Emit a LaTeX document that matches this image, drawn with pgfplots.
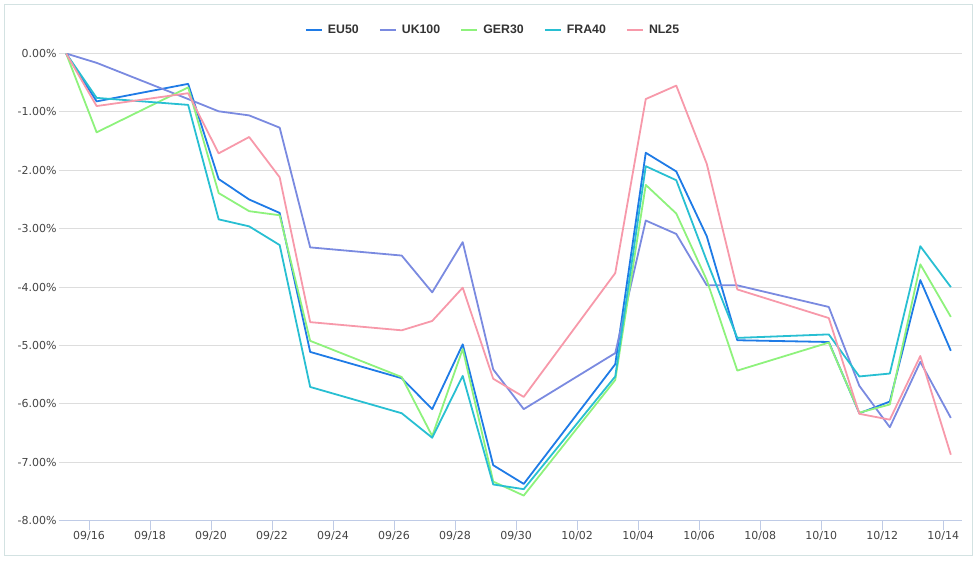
\documentclass[border=0pt]{standalone}
\usepackage{pgfplots}
\pgfplotsset{compat=1.18}
\usepackage{fontspec}
\setmainfont{DejaVu Sans}
\newfontfamily\legfont{Liberation Sans}

\definecolor{eu}{HTML}{1F7BE6}
\definecolor{uk}{HTML}{7A8AE0}
\definecolor{ger}{HTML}{8EF27C}
\definecolor{fra}{HTML}{28BFD2}
\definecolor{nl}{HTML}{F799AA}
\definecolor{gridc}{HTML}{DDDDDD}
\definecolor{axisc}{HTML}{BFCBE6}
\definecolor{framec}{HTML}{D3E2E2}
\definecolor{labc}{HTML}{444444}

% x = days since 09/15, data stamped a quarter day after midnight
\pgfplotstableread{
x     eu     uk     ger    fra    nl
0.25  0.00   0.00   0.00   0.00   0.00
1.25  -0.82  -0.16  -1.35  -0.76  -0.90
4.25  -0.52  -0.78  -0.58  -0.88  -0.68
5.25  -2.15  -0.99  -2.39  -2.84  -1.71
6.25  -2.50  -1.06  -2.70  -2.96  -1.43
7.25  -2.73  -1.27  -2.77  -3.28  -2.12
8.25  -5.11  -3.32  -4.92  -5.71  -4.60
11.25 -5.56  -3.46  -5.54  -6.16  -4.74
12.25 -6.09  -4.09  -6.55  -6.58  -4.58
13.25 -4.98  -3.23  -5.06  -5.52  -4.01
14.25 -7.05  -5.41  -7.33  -7.38  -5.57
15.25 -7.37  -6.09  -7.57  -7.46  -5.88
18.25 -5.32  -5.13  -5.59  -5.53  -3.76
19.25 -1.70  -2.86  -2.25  -1.93  -0.78
20.25 -2.02  -3.09  -2.74  -2.17  -0.55
21.25 -3.13  -3.97  -3.88  -3.55  -1.89
22.25 -4.91  -3.97  -5.43  -4.87  -4.04
25.25 -4.94  -4.34  -4.95  -4.81  -4.53
26.25 -6.16  -5.69  -6.15  -5.53  -6.17
27.25 -5.96  -6.40  -6.01  -5.48  -6.27
28.25 -3.88  -5.28  -3.61  -3.30  -5.18
29.25 -5.09  -6.24  -4.51  -4.00  -6.87
}\data

\begin{document}
\begin{tikzpicture}
\useasboundingbox (0,0) rectangle (977pt,562pt);
\draw[framec, line width=1pt] (4.5pt,6pt) rectangle (972pt,557pt);
\begin{axis}[
    scale only axis,
    width=903pt, height=467.2pt,
    at={(58.5pt,41.3pt)}, anchor=south west,
    xmin=0, xmax=29.6,
    ymin=-8, ymax=0,
    axis lines*=left,
    y axis line style={draw=none},
    x axis line style={axisc, line width=1pt, -},
    xtick={1,3,...,29},
    xticklabels={09/16,09/18,09/20,09/22,09/24,09/26,09/28,09/30,10/02,10/04,10/06,10/08,10/10,10/12,10/14},
    xtick align=outside,
    major tick length=9pt,
    xtick style={axisc, line width=1pt},
    xticklabel style={yshift=1.5pt},
    ytick={-8,-7,...,0},
    yticklabels={-8.00\%,-7.00\%,-6.00\%,-5.00\%,-4.00\%,-3.00\%,-2.00\%,-1.00\%,0.00\%},
    ytick style={draw=none},
    ymajorgrids,
    major grid style={gridc, line width=1pt},
    tick label style={font=\fontsize{11}{13}\selectfont, text=labc},
    yticklabel style={xshift=1.5pt},
    legend columns=-1,
    legend style={at={(0.4800,1.0503)}, anchor=center, draw=none, fill=none,
        font=\legfont\bfseries\fontsize{12.3}{14}\selectfont, text=black!80,
        nodes={inner sep=0pt},
        /tikz/every odd column/.append style={column sep=5pt},
        /tikz/every even column/.append style={column sep=20pt}},
    legend image code/.code={\draw[#1, line width=2.2pt] (0pt,0pt) -- (16pt,0pt);},
    every axis plot/.append style={line width=1.8pt, line join=round},
]
\addplot[eu] table[x=x, y=eu] {\data};
\addlegendentry{EU50}
\addplot[uk] table[x=x, y=uk] {\data};
\addlegendentry{UK100}
\addplot[ger] table[x=x, y=ger] {\data};
\addlegendentry{GER30}
\addplot[fra] table[x=x, y=fra] {\data};
\addlegendentry{FRA40}
\addplot[nl] table[x=x, y=nl] {\data};
\addlegendentry{NL25}
\end{axis}
\end{tikzpicture}
\end{document}
